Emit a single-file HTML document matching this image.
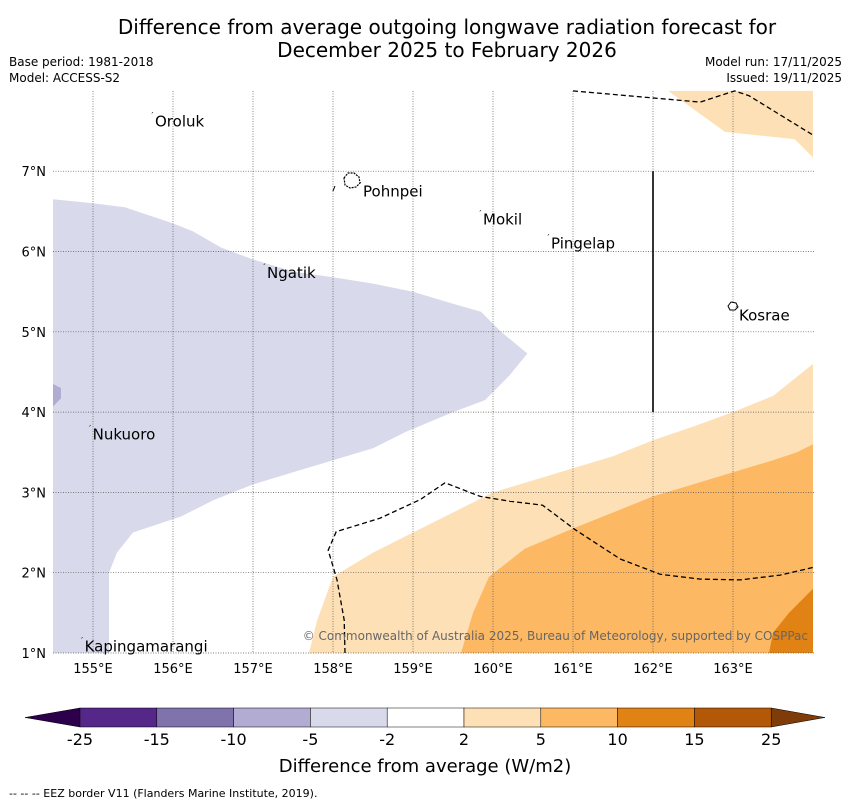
<!DOCTYPE html>
<html><head><meta charset="utf-8"><style>
body{margin:0;background:#fff;width:850px;height:804px;overflow:hidden;font-family:"DejaVu Sans","Liberation Sans",sans-serif}
svg{display:block}
</style></head><body>
<svg width="850" height="804" xmlns="http://www.w3.org/2000/svg" font-family="DejaVu Sans, Liberation Sans, sans-serif">
<text x="447" y="34" font-size="20" text-anchor="middle">Difference from average outgoing longwave radiation forecast for</text>
<text x="447" y="57" font-size="20" text-anchor="middle">December 2025 to February 2026</text>
<text x="9" y="66" font-size="12">Base period: 1981-2018</text>
<text x="9" y="82" font-size="12">Model: ACCESS-S2</text>
<text x="842" y="66" font-size="12" text-anchor="end">Model run: 17/11/2025</text>
<text x="842" y="82" font-size="12" text-anchor="end">Issued: 19/11/2025</text>
<g id="map"></g>
<g id="cbar"></g>
<text x="425" y="772" font-size="18" text-anchor="middle">Difference from average (W/m2)</text>
<text x="9" y="797" font-size="11">-- -- -- EEZ border V11 (Flanders Marine Institute, 2019).</text>
</svg>
<script>
const lonTicks=[155,156,157,158,159,160,161,162,163];
const latTicks=[1,2,3,4,5,6,7];
const blueRegion=[[154.5,6.65],[155,6.6],[155.4,6.55],[156,6.35],[156.25,6.25],[156.6,6.05],[157,5.9],[157.5,5.75],[158,5.68],[158.5,5.6],[159,5.5],[159.5,5.35],[159.85,5.25],[160.1,5.0],[160.43,4.73],[160.2,4.45],[159.9,4.15],[159.5,4.0],[158.9,3.75],[158.5,3.55],[158,3.4],[157.5,3.25],[157,3.1],[156.5,2.9],[156.1,2.7],[155.5,2.5],[155.3,2.25],[155.2,2.0],[155.2,1.0],[154.5,1.0]];
const purplePatch=[[154.5,4.07],[154.6,4.17],[154.6,4.3],[154.5,4.35]];
const orange1Region=[[157.7,1.0],[157.8,1.4],[158.0,1.95],[158.5,2.25],[159,2.5],[159.5,2.75],[160,3.0],[160.5,3.15],[161,3.3],[161.5,3.45],[162,3.65],[162.5,3.82],[163,4.0],[163.5,4.2],[164,4.6],[164,1.0]];
const orange1Top=[[162.19,8],[162.9,7.49],[163.77,7.4],[164,7.17],[164,8]];
const orange2Region=[[159.6,1.0],[159.75,1.5],[159.95,1.95],[160.4,2.3],[161,2.55],[161.5,2.75],[162,2.95],[162.5,3.1],[163,3.25],[163.5,3.4],[163.8,3.5],[164,3.6],[164,1.0]];
const orange3Region=[[163.45,1.0],[163.5,1.25],[163.7,1.5],[164,1.8],[164,1.0]];
const eezTop=[[161,8],[162.59,7.86],[163.02,8],[163.2,7.94],[164,7.45]];
const eezLow=[[158.15,1],[158.14,1.41],[158.05,1.91],[157.94,2.28],[158.04,2.51],[158.59,2.68],[159.09,2.91],[159.4,3.12],[159.84,2.95],[160.21,2.89],[160.62,2.84],[161.02,2.54],[161.59,2.17],[162.09,1.98],[162.59,1.92],[163.09,1.91],[163.59,1.97],[164.02,2.07]];
const places=[["Oroluk",155.75,7.62],["Pohnpei",158.35,6.75],["Mokil",159.85,6.4],["Pingelap",160.7,6.1],["Ngatik",157.15,5.73],["Kosrae",163.05,5.2],["Nukuoro",154.97,3.72],["Kapingamarangi",154.87,1.08]];
const cbLabels=["-25","-15","-10","-5","-2","2","5","10","15","25"];
const cbColors=["#542788","#8073ac","#b2abd2","#d8daeb","#ffffff","#fee0b6","#fdb863","#e08214","#b35806"];
const NS="http://www.w3.org/2000/svg";
const X=lon=>53+(lon-154.5)*80;
const Y=lat=>653-(lat-1)*80.3;
const map=document.getElementById('map');
function mk(t,a,p){const e=document.createElementNS(NS,t);for(const k in a)e.setAttribute(k,a[k]);(p||map).appendChild(e);return e;}
const pts=arr=>arr.map(p=>X(p[0]).toFixed(1)+','+Y(p[1]).toFixed(1)).join(' ');
function poly(arr,fill,name){const e=mk('polygon',{points:pts(arr),fill:fill});

}
poly(blueRegion,'#d8daeb','region-minus5-to-minus2');
poly(purplePatch,'#b2abd2','region-minus10-to-minus5');
poly(orange1Region,'#fee0b6','region-2-to-5');
poly(orange1Top,'#fee0b6','region-2-to-5-north');
poly(orange2Region,'#fdb863','region-5-to-10');
poly(orange3Region,'#e08214','region-10-to-15');
lonTicks.forEach(l=>{mk('line',{x1:X(l),x2:X(l),y1:91,y2:653,stroke:'#555','stroke-width':0.7,'stroke-dasharray':'1,1.5'});
const t=mk('text',{x:X(l),y:673,'font-size':13,'text-anchor':'middle'});t.textContent=l+'°E';

});
latTicks.forEach(l=>{mk('line',{x1:53,x2:815,y1:Y(l),y2:Y(l),stroke:'#555','stroke-width':0.7,'stroke-dasharray':'1,1.5'});
const t=mk('text',{x:46,y:Y(l)+5,'font-size':13,'text-anchor':'end'});t.textContent=l+'°N';

});
const e1=mk('polyline',{points:pts(eezTop),fill:'none',stroke:'#000','stroke-width':1.3,'stroke-dasharray':'5,3'});


const e2=mk('polyline',{points:pts(eezLow),fill:'none',stroke:'#000','stroke-width':1.3,'stroke-dasharray':'5,3'});


mk('line',{x1:X(162),x2:X(162),y1:Y(7),y2:Y(4),stroke:'#000','stroke-width':1.6});
mk('line',{x1:333,y1:191,x2:335,y2:186,stroke:'#000','stroke-width':1});
mk('path',{d:'M344,178 l4,-5 l6,0 l5,4 l1,6 l-4,4 l-6,1 l-5,-3 z',fill:'#fff',stroke:'#000','stroke-width':1.2,'stroke-dasharray':'2,1'});
mk('path',{d:'M728,306 l3,-4 l5,1 l2,4 l-3,3 l-5,0 z',fill:'#fff',stroke:'#000','stroke-width':1});
places.forEach(p=>{const t=mk('text',{x:X(p[1])+2,y:Y(p[2])+5,'font-size':15});t.textContent=p[0];


mk('text',{x:X(p[1])-3,y:Y(p[2])-3,'font-size':8}).textContent='´';});
const cp=mk('text',{x:808,y:640,'font-size':12,fill:'#666','text-anchor':'end'});cp.textContent='© Commonwealth of Australia 2025, Bureau of Meteorology, supported by COSPPac';


const cb=document.getElementById('cbar');
const cx0=80,cw=76.8,cy=708,ch=19;
mk('polygon',{points:`${cx0},${cy} 25,${cy+ch/2} ${cx0},${cy+ch}`,fill:'#2d004b',stroke:'#000','stroke-width':0.5},cb);
mk('polygon',{points:`${cx0+9*cw},${cy} 825,${cy+ch/2} ${cx0+9*cw},${cy+ch}`,fill:'#7f3b08',stroke:'#000','stroke-width':0.5},cb);
cbColors.forEach((c,i)=>{const r=mk('rect',{x:cx0+i*cw,y:cy,width:cw,height:ch,fill:c,stroke:'#000','stroke-width':0.5},cb);

});
cbLabels.forEach((l,i)=>{const t=mk('text',{x:cx0+i*cw,y:745,'font-size':16,'text-anchor':'middle'},cb);t.textContent=l;

});
</script>
</body></html>
